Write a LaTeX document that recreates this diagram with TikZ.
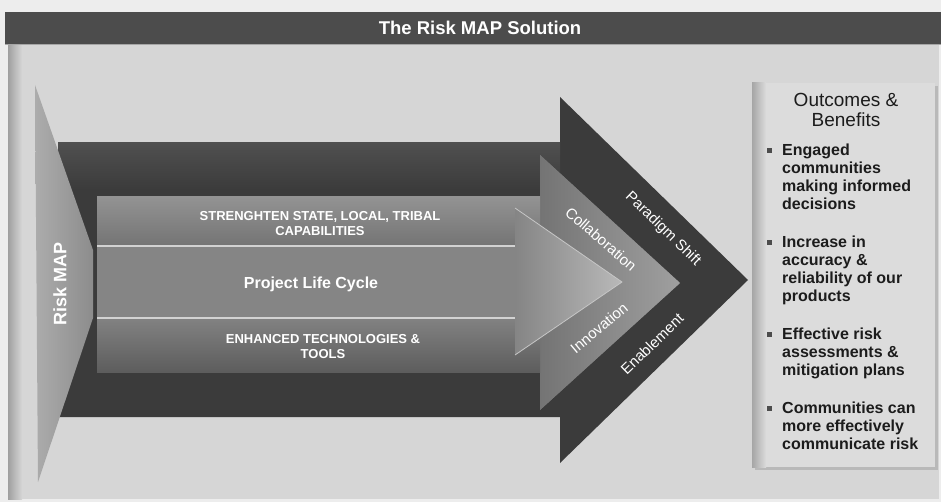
\documentclass[tikz,border=0pt]{standalone}
\usepackage{fontspec}
\setmainfont{Liberation Sans}
\usetikzlibrary{positioning}

\definecolor{paper}{HTML}{EDEDED}
\definecolor{panelgray}{HTML}{D6D6D6}
\definecolor{bargray}{HTML}{4C4C4C}
\definecolor{darkarrow}{HTML}{3B3B3B}
\definecolor{midarrow}{HTML}{747474}
\definecolor{lightarrow}{HTML}{858585}
\definecolor{boxgray}{HTML}{DCDCDC}
\definecolor{inkgray}{HTML}{1C1C1C}

\tikzset{
  bandtext/.style={text=white, font=\bfseries\fontsize{13}{15}\selectfont, align=center},
  edgetext/.style={text=white, font=\fontsize{15}{16}\selectfont, inner sep=1pt},
  benefit/.style={text=inkgray, font=\bfseries\fontsize{16}{18}\selectfont, align=left, anchor=north west, inner sep=0pt},
}

\begin{document}
\begin{tikzpicture}[x=1pt,y=-1pt]
\useasboundingbox (0,0) rectangle (941,502);
% background and panel
\fill[paper] (0,0) rectangle (941,502);
\fill[panelgray] (10,45) rectangle (939,499);
\shade[left color=gray!75, right color=panelgray] (8,45) rectangle (22,499);
% title bar
\fill[bargray] (5,12) rectangle (941,45);
\draw[gray!70, thin] (5,44) -- (941,44);
\node (title) [text=white, font=\bfseries\fontsize{18.5}{20}\selectfont] at (480,28) {The Risk MAP Solution};
% big dark arrow
\fill[darkarrow] (58,143) -- (560,143) -- (560,97) -- (748,280) -- (560,463) -- (560,417) -- (58,417) -- cycle;
\shade[top color=darkarrow!70!gray, bottom color=darkarrow] (58,143) rectangle (560,190);
% middle arrow
\fill[midarrow] (97,197) -- (540,197) -- (540,155) -- (680,283) -- (540,410) -- (540,372) -- (97,372) -- cycle;
\shade[left color=midarrow, right color=gray!75] (540,155) -- (680,283) -- (540,410) -- (540,372) -- (540,197) -- cycle;
\shade[top color=gray!85, bottom color=midarrow] (97,197) rectangle (540,246);
\shade[top color=midarrow!90!white, bottom color=midarrow!80!black] (97,318) rectangle (540,372);
% inner light arrow
\fill[lightarrow] (97,246) -- (515,246) -- (515,208) -- (622,282) -- (515,355) -- (515,318) -- (97,318) -- cycle;
\shade[left color=lightarrow, right color=gray!55] (515,208) -- (622,282) -- (515,355) -- cycle;
\draw[gray!35, line width=1.2pt] (97,246) -- (515,246);
\draw[gray!35, line width=1.2pt] (97,318) -- (515,318);
\draw[gray!45, line width=0.8pt] (515,208) -- (622,282) -- (515,355);
% Risk MAP wedge
\shade[left color=gray!65, right color=gray!110!black] (35,85) -- (93,250) -- (93,318) -- (38,482) -- cycle;
\node (riskmap) [text=white, font=\bfseries\fontsize{18}{20}\selectfont, rotate=90] at (60,284) {Risk MAP};
% band labels
\node (strengthen) [bandtext] at (320,224) {STRENGHTEN STATE, LOCAL, TRIBAL\\CAPABILITIES};
\node (lifecycle) [text=white, font=\bfseries\fontsize{16}{18}\selectfont] at (311,284) {Project Life Cycle};
\node (tech) [bandtext] at (323,347) {ENHANCED TECHNOLOGIES \&\\TOOLS};
% labels along the arrow heads
\node (paradigm) [edgetext, rotate=-44] at (663,229) {Paradigm Shift};
\node (enable) [edgetext, rotate=44] at (652,344) {Enablement};
\node (collab) [edgetext, rotate=-41] at (601,239) {Collaboration};
\node (innov) [edgetext, rotate=40] at (599,328) {Innovation};
% outcomes box
\fill[gray!55] (755,86) rectangle (938,470);
\fill[boxgray] (752,83) rectangle (935,467);
\shade[left color=gray!70, right color=boxgray] (752,83) rectangle (766,467);
\node (outcomes) [text=inkgray, font=\fontsize{19}{20}\selectfont, align=center] at (846,110) {Outcomes \&\\Benefits};
\foreach \ytop/\txt [count=\k] in {144/{Engaged\\communities\\making informed\\decisions},
    236/{Increase in\\accuracy \&\\reliability of our\\products},
    328/{Effective risk\\assessments \&\\mitigation plans},
    402/{Communities can\\more effectively\\communicate risk}}
{
  \fill[gray!60!black] (767,\ytop+4) rectangle ++(5,5);
  \node (benefit\k) [benefit] at (782,\ytop) {\txt};
}
\end{tikzpicture}
\end{document}
